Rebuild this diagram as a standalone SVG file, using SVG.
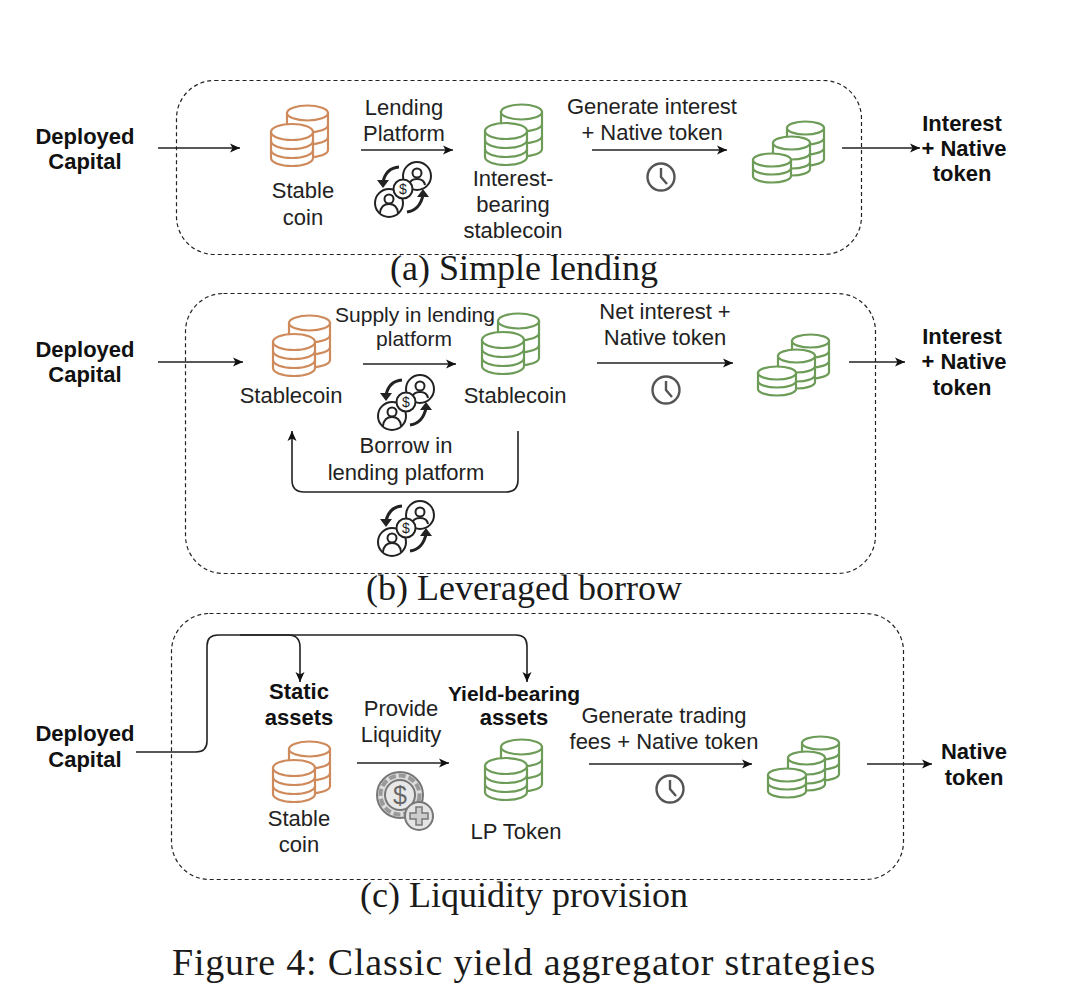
<svg xmlns="http://www.w3.org/2000/svg" width="1080" height="993" viewBox="0 0 1080 993">
<style>
text{font-family:"Liberation Sans",Arial,sans-serif;font-size:22px;fill:#222;text-anchor:middle}
.b{font-weight:bold;fill:#111}
.s{font-family:"Liberation Serif","Times New Roman",serif;font-size:36px;fill:#1a1a1a}
.box{fill:none;stroke:#222;stroke-width:1.2;stroke-dasharray:4 3}
.c{fill:none;stroke:#222;stroke-width:1.6}
.or{stroke:#cf8a5c;stroke-width:2.2;fill:#fff}
.gr{stroke:#6d9c58;stroke-width:2.2;fill:#fff}
.ln{fill:none}
.ic{stroke:#222;stroke-width:2;fill:#fff}
.ck{stroke:#555;stroke-width:2.4;fill:#fff}
</style>
<defs>
<marker id="ah" markerUnits="userSpaceOnUse" markerWidth="12" markerHeight="10" refX="10" refY="5" orient="auto"><path d="M0 0.500L10 5L0 9.500L2.500 5Z" fill="#111"/></marker>
<g id="stack2">
<path d="M17 8V45A20.500 7.500 0 0 0 58 45V8Z"/>
<ellipse cx="37.500" cy="8" rx="20.500" ry="7.500"/>
<path class="ln" d="M17 20A20.500 7.500 0 0 0 58 20M17 32A20.500 7.500 0 0 0 58 32"/>
<path d="M1 27V53A21 8 0 0 0 43 53V27Z"/>
<ellipse cx="22" cy="27" rx="21" ry="8"/>
<path class="ln" d="M1 36A21 8 0 0 0 43 36M1 45A21 8 0 0 0 43 45"/>
</g>
<g id="stack3">
<path d="M34 7V38A18.500 6.500 0 0 0 71 38V7Z"/>
<ellipse cx="52.500" cy="7" rx="18.500" ry="6.500"/>
<path class="ln" d="M34 17A18.500 6.500 0 0 0 71 17M34 27A18.500 6.500 0 0 0 71 27"/>
<path d="M20 22V48A18.500 6.500 0 0 0 57 48V22Z"/>
<ellipse cx="38.500" cy="22" rx="18.500" ry="6.500"/>
<path class="ln" d="M20 32A18.500 6.500 0 0 0 57 32M20 41A18.500 6.500 0 0 0 57 41"/>
<path d="M0 39V55A19 6.500 0 0 0 38 55V39Z"/>
<ellipse cx="19" cy="39" rx="19" ry="6.500"/>
<path class="ln" d="M0 47A19 6.500 0 0 0 38 47"/>
</g>
<g id="people">
<circle class="ic" cx="14" cy="-13" r="14"/>
<circle class="ic" cx="14" cy="-16" r="4.500"/>
<path class="ic" d="M6 -4Q7 -10 14 -10Q21 -10 22 -4"/>
<circle class="ic" cx="-14" cy="14" r="14"/>
<circle class="ic" cx="-14" cy="10" r="4.500"/>
<path class="ic" d="M-23 24Q-22 15 -14 15Q-6 15 -5 24"/>
<path class="ic" d="M-4 -22Q-17 -21 -20 -7" style="fill:none;stroke-width:3"/>
<path d="M-26 -9L-14 -9L-20 -1Z" fill="#222"/>
<path class="ic" d="M4 23Q17 21 20 6" style="fill:none;stroke-width:3"/>
<path d="M14 8L26 8L20 0Z" fill="#222"/>
<circle class="ic" cx="0" cy="0" r="9.500"/>
<text x="0" y="5" style="font-size:14px">$</text>
</g>
<g id="clock">
<circle class="ck" r="13.500"/>
<path class="ck" style="fill:none" d="M0 -9V0L6 7"/>
</g>
</defs>

<g id="frames">
<rect class="box" x="176.500" y="80.500" width="685" height="174" rx="38"/>
<rect class="box" x="185.500" y="293.500" width="690" height="280" rx="38"/>
<rect class="box" x="171.500" y="613.500" width="732" height="266" rx="38"/>
</g>

<g id="connectors">
<path class="c" marker-end="url(#ah)" d="M158 148H240"/>
<path class="c" marker-end="url(#ah)" d="M361 150H453"/>
<path class="c" marker-end="url(#ah)" d="M592 150H727"/>
<path class="c" marker-end="url(#ah)" d="M842 148H920"/>
<path class="c" marker-end="url(#ah)" d="M158 362H243"/>
<path class="c" marker-end="url(#ah)" d="M363 364H456"/>
<path class="c" marker-end="url(#ah)" d="M597 363H733"/>
<path class="c" marker-end="url(#ah)" d="M849 362H905"/>
<path class="c" marker-end="url(#ah)" d="M518 431V480Q518 492 506 492H304Q292 492 292 480V431"/>
<path class="c" marker-end="url(#ah)" d="M136 752H196Q207 752 207 741V646Q207 635 218 635H516Q527 635 527 646V682"/>
<path class="c" marker-end="url(#ah)" d="M240 635H288Q300 635 300 647V682"/>
<path class="c" marker-end="url(#ah)" d="M357 763H449"/>
<path class="c" marker-end="url(#ah)" d="M589 764H752"/>
<path class="c" marker-end="url(#ah)" d="M867 764H932"/>
</g>

<g id="a-capital"><text class="b" x="85" y="144">Deployed</text><text class="b" x="85" y="169">Capital</text></g>
<g id="a-stable"><use class="or" href="#stack2" x="270" y="105"/><text x="303" y="198">Stable</text><text x="303" y="225">coin</text></g>
<g id="a-platform"><text x="404" y="115">Lending</text><text x="404" y="141">Platform</text><use href="#people" x="403" y="189"/></g>
<g id="a-bearing"><use class="gr" href="#stack2" x="484" y="104"/><text x="513" y="186">Interest-</text><text x="513" y="212">bearing</text><text x="513" y="238">stablecoin</text></g>
<g id="a-generate"><text x="652" y="114">Generate interest</text><text x="652" y="140">+ Native token</text><use href="#clock" x="661" y="177"/></g>
<g id="a-coins"><use class="gr" href="#stack3" x="753" y="121"/></g>
<g id="a-out"><text class="b" x="962" y="131">Interest</text><text class="b" x="964" y="156">+ Native</text><text class="b" x="962" y="181">token</text></g>
<text id="a-caption" class="s" x="524" y="280">(a) Simple lending</text>

<g id="b-capital"><text class="b" x="85" y="357">Deployed</text><text class="b" x="85" y="382">Capital</text></g>
<g id="b-stable"><use class="or" href="#stack2" x="272" y="315"/><text x="291" y="403">Stablecoin</text></g>
<g id="b-supply"><text x="415" y="322" style="font-size:21px">Supply in lending</text><text x="414" y="346" style="font-size:21px">platform</text><use href="#people" x="406" y="402"/></g>
<g id="b-stable2"><use class="gr" href="#stack2" x="481" y="313"/><text x="515" y="403">Stablecoin</text></g>
<g id="b-net"><text x="665" y="319">Net interest +</text><text x="665" y="345">Native token</text><use href="#clock" x="666" y="390"/></g>
<g id="b-coins"><use class="gr" href="#stack3" x="758" y="334"/></g>
<g id="b-out"><text class="b" x="962" y="344">Interest</text><text class="b" x="964" y="369">+ Native</text><text class="b" x="962" y="395">token</text></g>
<g id="b-borrow"><text x="406" y="453">Borrow in</text><text x="406" y="480">lending platform</text><use href="#people" x="406" y="528"/></g>
<text id="b-caption" class="s" x="524" y="600">(b) Leveraged borrow</text>

<g id="c-capital"><text class="b" x="85" y="741">Deployed</text><text class="b" x="85" y="767">Capital</text></g>
<g id="c-static"><text class="b" x="299" y="699">Static</text><text class="b" x="299" y="725">assets</text><use class="or" href="#stack2" x="272" y="741"/><text x="299" y="826">Stable</text><text x="299" y="852">coin</text></g>
<g id="c-provide"><text x="401" y="716">Provide</text><text x="401" y="742">Liquidity</text>
<circle cx="400" cy="795" r="23" fill="#ddd" stroke="#777" stroke-width="2"/>
<circle cx="400" cy="795" r="19.500" fill="none" stroke="#999" stroke-width="4" stroke-dasharray="7 3"/>
<circle cx="400" cy="795" r="15" fill="#e8e8e8" stroke="#777" stroke-width="2"/>
<text x="400" y="804" style="font-size:25px;fill:#666">$</text>
<circle cx="419" cy="816" r="14" fill="#e4e4e4" stroke="#777" stroke-width="2"/>
<path d="M416 807H422V813H428V819H422V825H416V819H410V813H416Z" fill="#ccc" stroke="#777" stroke-width="1.500"/>
</g>
<g id="c-yield"><text class="b" x="514" y="701" style="font-size:21px">Yield-bearing</text><text class="b" x="514" y="725">assets</text><use class="gr" href="#stack2" x="484" y="739"/><text x="516" y="839">LP Token</text></g>
<g id="c-generate"><text x="664" y="723">Generate trading</text><text x="664" y="749">fees + Native token</text><use href="#clock" x="670" y="789"/></g>
<g id="c-coins"><use class="gr" href="#stack3" x="768" y="736"/></g>
<g id="c-out"><text class="b" x="974" y="759">Native</text><text class="b" x="974" y="785">token</text></g>
<text id="c-caption" class="s" x="524" y="907">(c) Liquidity provision</text>
<text id="figure-caption" class="s" x="524" y="975" style="font-size:38px;letter-spacing:0.800px">Figure 4: Classic yield aggregator strategies</text>
</svg>
